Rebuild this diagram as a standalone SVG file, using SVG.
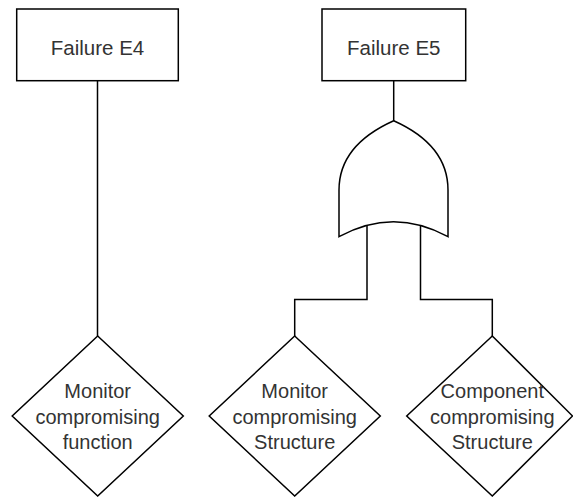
<svg xmlns="http://www.w3.org/2000/svg" width="573" height="497" viewBox="0 0 573 497">
<style>
.shape{fill:#fff;stroke:#000;stroke-width:1.5}
.conn{fill:none;stroke:#000;stroke-width:1.5}
.lbl{font-family:"Liberation Sans",Arial,sans-serif;fill:#333;text-anchor:middle}
.box{font-size:20.5px}
.dia{font-size:20px}
</style>
<rect width="573" height="497" fill="#fff"/>
<g id="connectors">
<path class="conn" d="M97.5 80.7 V336"/>
<path class="conn" d="M393.7 80.7 V121"/>
<path class="conn" d="M367 222 V299.5 H294.7 V336"/>
<path class="conn" d="M420.5 222 V299.5 H492.3 V336"/>
</g>
<g id="failure-e4">
<rect class="shape" x="16.7" y="9" width="161.6" height="71.7"/>
<text class="lbl box" x="97.5" y="55">Failure E4</text>
</g>
<g id="failure-e5">
<rect class="shape" x="322" y="9" width="143.7" height="71.7"/>
<text class="lbl box" x="393.8" y="55">Failure E5</text>
</g>
<g id="or-gate">
<path class="shape" d="M339 236.7 V190 C339 155 364 134 393.7 120.7 C423.4 134 448 155 448 190 V236.7 Q393.5 206.7 339 236.7 Z"/>
</g>
<g id="monitor-function">
<path class="shape" d="M97.7 336 L183.3 416 L97.7 496 L12.2 416 Z"/>
<text class="lbl dia" x="97.7" y="398.3">Monitor</text>
<text class="lbl dia" x="97.7" y="423.8">compromising</text>
<text class="lbl dia" x="97.7" y="449.3">function</text>
</g>
<g id="monitor-structure">
<path class="shape" d="M294.7 336 L380.3 416 L294.7 496 L209.2 416 Z"/>
<text class="lbl dia" x="294.7" y="398.3">Monitor</text>
<text class="lbl dia" x="294.7" y="423.8">compromising</text>
<text class="lbl dia" x="294.7" y="449.3">Structure</text>
</g>
<g id="component-structure">
<path class="shape" d="M492.3 336 L572.5 416 L492.3 496 L406.7 416 Z"/>
<text class="lbl dia" x="492.3" y="398.3">Component</text>
<text class="lbl dia" x="492.3" y="423.8">compromising</text>
<text class="lbl dia" x="492.3" y="449.3">Structure</text>
</g>
</svg>
